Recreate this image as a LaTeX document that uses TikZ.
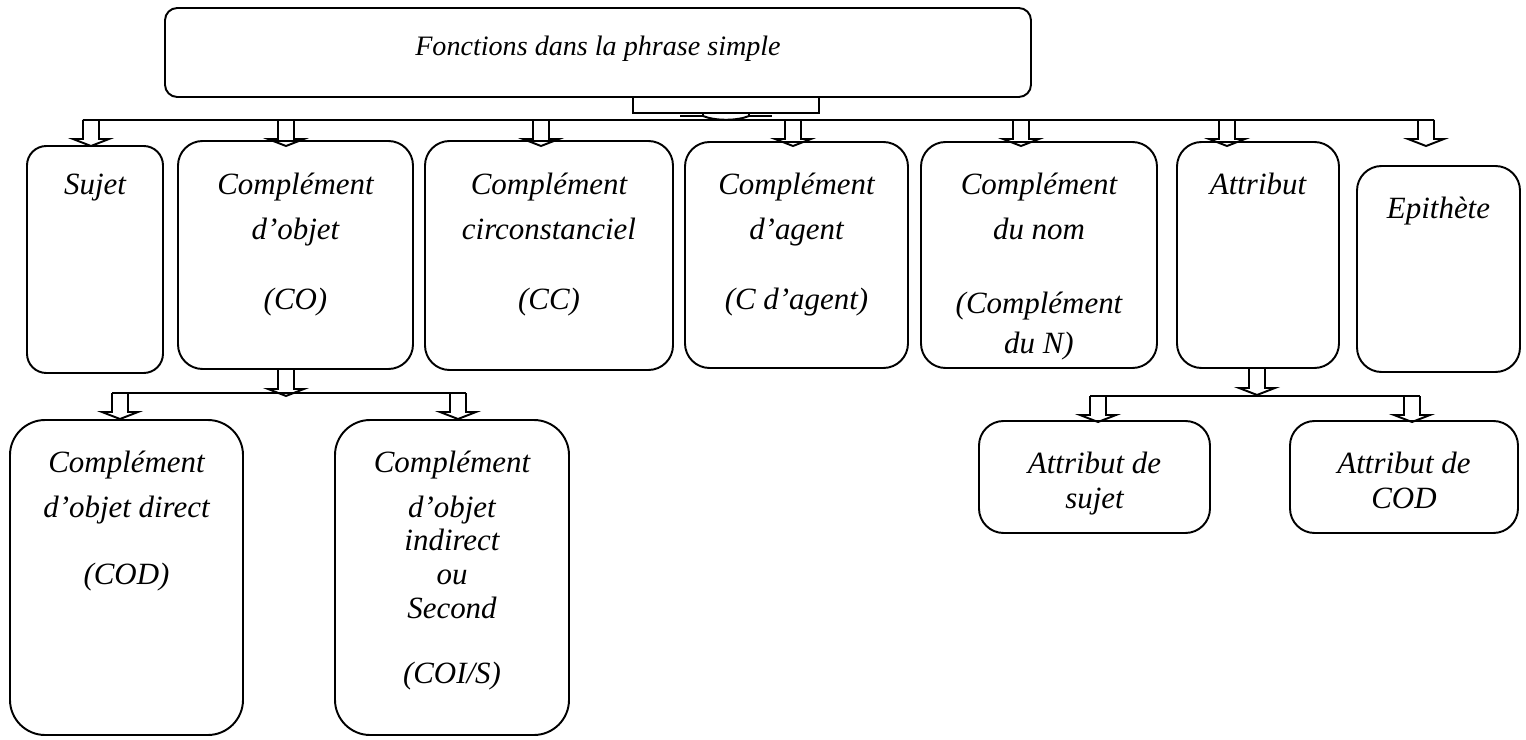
\documentclass[tikz,border=0pt]{standalone}
\usepackage{fontspec}
\setmainfont{Liberation Serif}
\usetikzlibrary{positioning,fit}

\tikzset{
  box/.style={draw,rounded corners=14pt,inner sep=0pt},
  txt/.style={align=center,inner sep=0pt,font=\fontsize{17.6}{19.3}\selectfont\itshape},
  hollow arrow/.pic={\draw (-8,0) -- (-8,19) -- (-18,19) -- (0,26) -- (18,19) -- (8,19) -- (8,0);}
}

\begin{document}
\begin{tikzpicture}[x=0.02cm,y=-0.02cm,line width=1.1pt]
  \useasboundingbox (0,0) rectangle (1526,740);

  % title
  \node[box,rounded corners=7pt,fit={(165,8) (1031,97)}] (title) {};
  \node[txt,font=\fontsize{16}{19.2}\selectfont\itshape,below=13.5pt of title.north] (title-t) {\strut Fonctions dans la phrase simple};

  % first row
  \node[box,rounded corners=11pt,fit={(27,146) (163,373)}] (sujet) {};
  \node[box,fit={(178,141) (413,369)}] (co) {};
  \node[box,fit={(425,141) (673,370)}] (cc) {};
  \node[box,fit={(685,142) (908,368)}] (agent) {};
  \node[box,fit={(921,142) (1157,368)}] (nom) {};
  \node[box,fit={(1177,142) (1339,368)}] (attr) {};
  \node[box,fit={(1357,166) (1520,372)}] (epi) {};
  \node[txt,below=14pt of sujet.north] (sujet-t) {\strut Sujet};
  \node[txt,below=16.9pt of co.north] (co-t) {\strut Complément\\[6.3pt]d’objet\\[20.5pt](CO)};
  \node[txt,below=16.9pt of cc.north] (cc-t) {\strut Complément\\[6.3pt]circonstanciel\\[20.5pt](CC)};
  \node[txt,below=16.3pt of agent.north] (agent-t) {\strut Complément\\[6.3pt]d’agent\\[20.5pt](C d’agent)};
  \node[txt,below=16.3pt of nom.north] (nom-t) {\strut Complément\\[6.3pt]du nom\\[23pt](Complément\\[3.4pt]du N)};
  \node[txt,below=16.3pt of attr.north] (attr-t) {\strut Attribut};
  \node[txt,below=16.2pt of epi.north] (epi-t) {\strut Epithète};

  % second row
  \node[box,rounded corners=20pt,fit={(10,420) (243,735)}] (cod) {};
  \node[box,rounded corners=20pt,fit={(335,420) (569,735)}] (coi) {};
  \node[box,fit={(979,421) (1210,533)}] (atts) {};
  \node[box,fit={(1290,421) (1518,533)}] (attcod) {};
  \node[txt,below=16.1pt of cod.north] (cod-t) {\strut Complément\\[6.3pt]d’objet direct\\[19pt](COD)};
  \node[txt,below=16.1pt of coi.north] (coi-t) {\strut Complément\\[6.3pt]d’objet\\indirect\\ou\\Second\\[17.6pt](COI/S)};
  \node[txt,below=16.1pt of atts.north] (atts-t) {\strut Attribut de\\[1pt]sujet};
  \node[txt,below=16.1pt of attcod.north] (attcod-t) {\strut Attribut de\\[1pt]COD};

  % title down to the bus
  \draw (633,0 |- title.south) -- (633,113) -- (819,113) -- (819,0 |- title.south);
  \draw (680,116) -- (703,116) -- (703,113) (749,113) -- (749,116) -- (772,116);
  \draw (703,116) .. controls (715,121) and (737,121) .. (749,116);
  \coordinate (bus-a) at (83,120);
  \coordinate (bus-b) at (1434,120);
  \draw (bus-a) -- (bus-b);
  \foreach \x in {91,286,541,793,1021,1227,1426}
    \pic at (\x,120) {hollow arrow};

  % CO splits
  \pic at (286,0 |- co.south) {hollow arrow};
  \coordinate (bus-c) at (112,393);
  \coordinate (bus-d) at (466,393);
  \draw (bus-c) -- (bus-d);
  \pic at (120,0 |- bus-c) {hollow arrow};
  \pic at (458,0 |- bus-d) {hollow arrow};

  % Attribut splits
  \pic at (1257,0 |- attr.south) {hollow arrow};
  \coordinate (bus-e) at (1090,396);
  \coordinate (bus-f) at (1420,396);
  \draw (bus-e) -- (bus-f);
  \pic at (1098,0 |- bus-e) {hollow arrow};
  \pic at (1412,0 |- bus-f) {hollow arrow};
\end{tikzpicture}
\end{document}
